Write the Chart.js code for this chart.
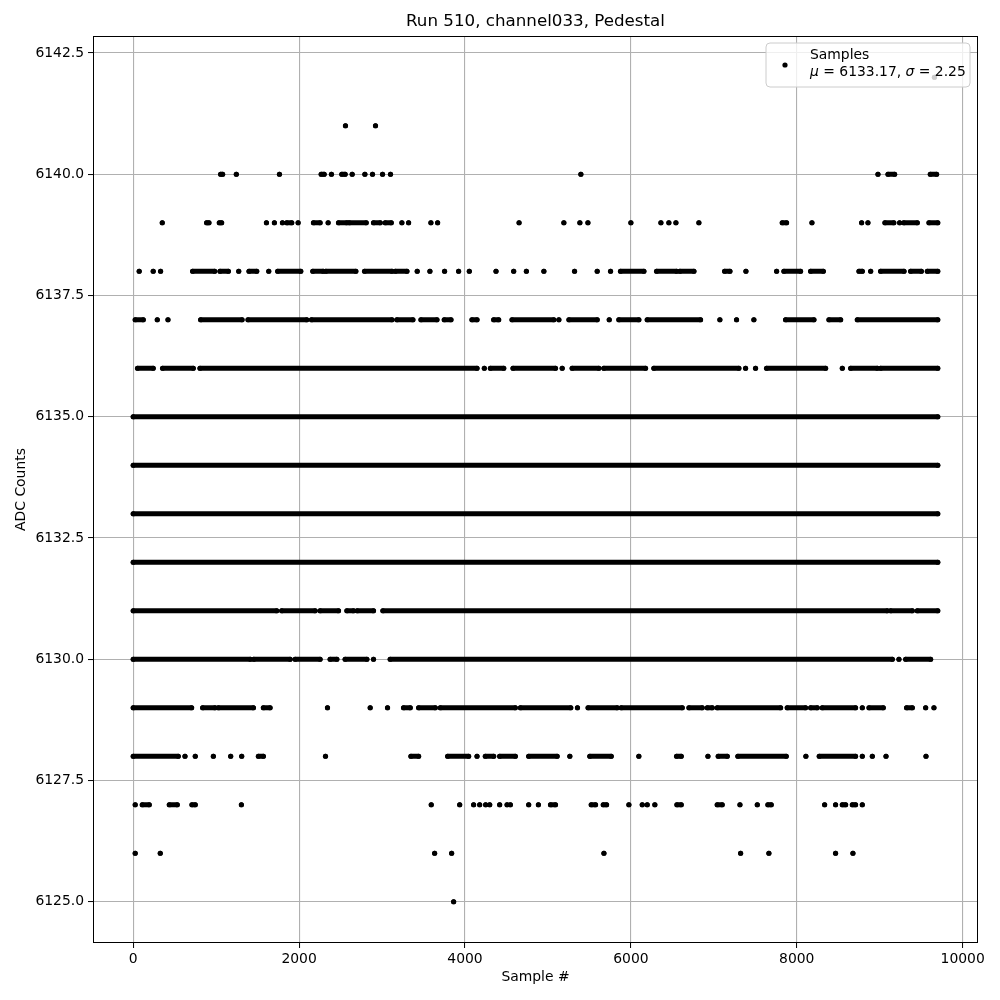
<!DOCTYPE html>
<html>
<head>
<meta charset="utf-8">
<script src="https://cdn.jsdelivr.net/npm/chart.js@4"></script>
<style>
  body { margin: 0; background: #fff; }
  #wrap { width: 1000px; height: 1000px; }
</style>
</head>
<body>
<div id="wrap"><canvas id="myChart" width="1000" height="1000"></canvas></div>
<script>
// Each level's runs of samples: [x] is a single dot, [x0, x1] a dense stretch of dots
const lvl6142 = [[9660]];
const lvl6141 = [[2559], [2921]];
const lvl6140 = [[1054, 1078], [1243], [1763], [2266, 2302], [2390], [2515, 2555], [2640], [2793], [2885], [3006], [3102], [5397], [8979], [9100, 9180], [9610, 9686]];
const lvl6139 = [[350], [885, 913], [1038, 1066], [1606], [1702], [1799], [1851, 1911], [1988], [2173, 2253], [2350], [2475, 2575], [2604, 2809], [2897, 2978], [3038, 3111], [3239], [3320], [3589], [3670], [4652], [5192], [5385], [5482], [6000], [6362], [6458], [6543], [6820], [7825, 7877], [8183], [8782], [8858], [9063, 9170], [9240], [9290, 9453], [9594, 9700]];
const lvl6138 = [[72], [241], [330], [716, 982], [1046, 1147], [1272], [1396, 1489], [1634], [1742, 2020], [2165, 2290], [2322, 2684], [2789, 3120], [3160, 3300], [3424], [3577], [3754], [3923], [4052], [4374], [4587], [4740], [4951], [5321], [5594], [5755], [5875, 6157], [6310, 6551], [6591, 6760], [7130, 7194], [7387], [7757], [7845, 8046], [8167, 8320], [8750, 8790], [8891], [9011, 9293], [9373, 9502], [9574, 9700]];
const lvl6137 = [[24, 121], [290], [419], [813, 1312], [1384, 2092], [2149, 3119], [3179, 3372], [3469, 3662], [3750, 3831], [4084, 4145], [4346, 4406], [4567, 5071], [5132], [5253, 5594], [5739], [5855, 6096], [6197, 6840], [7073], [7274], [7483], [7865, 8207], [8388, 8529], [8730, 9700]];
const lvl6136 = [[52, 241], [354, 724], [805, 4145], [4233], [4306, 4467], [4579, 5091], [5172], [5292, 5614], [5674, 6177], [6277, 7302], [7383], [7503], [7636, 8348], [8549], [8650, 8971], [9011, 9700]];
const lvl6135 = [[0, 9700]];
const lvl6134 = [[0, 9700]];
const lvl6133 = [[0, 9700]];
const lvl6132 = [[0, 9700]];
const lvl6131 = [[0, 1730], [1790, 2193], [2253, 2475], [2576, 2656], [2700, 2897], [3010, 9091], [9131, 9393], [9453, 9700]];
const lvl6130 = [[0, 1412], [1453, 1892], [1952, 2253], [2374, 2455], [2555, 2817], [2897], [3098, 9152], [9232], [9313, 9614]];
const lvl6129 = [[0, 704], [837, 986], [1026, 1449], [1569, 1650], [2342], [2857], [3066], [3259, 3340], [3441, 3642], [3702, 4607], [4668, 5275], [5356], [5484, 5835], [5883, 6619], [6700, 6860], [6921, 6981], [7041, 7805], [7885, 8106], [8167, 8247], [8307, 8709], [8790], [8871, 9043], [9324, 9393], [9554], [9654]];
const lvl6128 = [[0, 543], [624], [748], [966], [1175], [1308], [1509, 1569], [2318], [3348, 3441], [3791, 4044], [4145], [4245, 4346], [4418, 4607], [4768, 5111], [5264], [5505, 5763], [6096], [6551, 6607], [6929], [7053, 7162], [7290, 7873], [8110], [8271, 8709], [8790], [8911], [9076], [9558]];
const lvl6127 = [[24], [109, 193], [435, 531], [708, 748], [1304], [3593], [3936], [4104], [4177], [4249], [4298], [4418], [4507], [4547], [4768], [4885], [5031, 5091], [5522, 5574], [5667, 5707], [5976], [6137], [6197], [6289], [6555, 6607], [7041, 7101], [7315], [7524], [7652, 7692], [8336], [8468], [8549, 8589], [8670, 8709], [8790]];
const lvl6126 = [[24], [326], [3634], [3839], [5675], [7323], [7664], [8468], [8677]];
const lvl6125 = [[3863]];

const levels = [6125, 6126, 6127, 6128, 6129, 6130, 6131, 6132, 6133, 6134, 6135, 6136, 6137, 6138, 6139, 6140, 6141, 6142];
const levelRuns = [lvl6125, lvl6126, lvl6127, lvl6128, lvl6129, lvl6130, lvl6131, lvl6132, lvl6133, lvl6134, lvl6135, lvl6136, lvl6137, lvl6138, lvl6139, lvl6140, lvl6141, lvl6142];

const xTicks = [0, 2000, 4000, 6000, 8000, 10000];
const yTicks = [6125.0, 6127.5, 6130.0, 6132.5, 6135.0, 6137.5, 6140.0, 6142.5];

const titleText = 'Run 510, channel033, Pedestal';
const xLabel = 'Sample #';
const yLabel = 'ADC Counts';
const legendName = 'Samples';
const meanValue = '6133.17';
const sigmaValue = '2.25';

const FONT = '"DejaVu Sans", sans-serif';

// Turn runs into a point list, with null gaps between runs
function buildData(y, runs) {
  const pts = [];
  runs.forEach(r => {
    pts.push({ x: r[0], y: y });
    if (r.length > 1) pts.push({ x: r[1], y: y });
    pts.push({ x: r[0], y: null });
  });
  return pts;
}

const datasets = levels.map((y, i) => ({
  label: String(y),
  data: buildData(y, levelRuns[i]),
  showLine: true,
  spanGaps: false,
  borderColor: '#000',
  backgroundColor: '#000',
  borderWidth: 5,
  borderCapStyle: 'round',
  borderJoinStyle: 'round',
  pointRadius: 2.6,
  pointBorderWidth: 0,
  pointBackgroundColor: '#000',
  pointHoverRadius: 2.6,
}));

// Title, axis labels, frame and legend
const decorations = {
  id: 'decorations',
  afterDraw(c) {
    const ctx = c.ctx;
    const a = c.chartArea;
    ctx.save();
    ctx.strokeStyle = '#000';
    ctx.lineWidth = 1;
    ctx.strokeRect(Math.round(a.left) + 0.5, Math.round(a.top) + 0.5,
      Math.round(a.right - a.left) - 1, Math.round(a.bottom - a.top) - 1);

    ctx.fillStyle = '#000';
    ctx.textAlign = 'center';
    ctx.textBaseline = 'middle';
    ctx.font = '16.7px ' + FONT;
    ctx.fillText(titleText, (a.left + a.right) / 2, 22);

    ctx.font = '13.9px ' + FONT;
    ctx.fillText(xLabel, (a.left + a.right) / 2, 977);
    ctx.save();
    ctx.translate(21, (a.top + a.bottom) / 2);
    ctx.rotate(-Math.PI / 2);
    ctx.fillText(yLabel, 0, 0);
    ctx.restore();

    // legend box
    const bx = 766, by = 43, bw = 204, bh = 44, r = 4;
    ctx.beginPath();
    ctx.moveTo(bx + r, by);
    ctx.arcTo(bx + bw, by, bx + bw, by + bh, r);
    ctx.arcTo(bx + bw, by + bh, bx, by + bh, r);
    ctx.arcTo(bx, by + bh, bx, by, r);
    ctx.arcTo(bx, by, bx + bw, by, r);
    ctx.closePath();
    ctx.fillStyle = 'rgba(255,255,255,0.8)';
    ctx.fill();
    ctx.strokeStyle = '#cccccc';
    ctx.lineWidth = 1;
    ctx.stroke();

    ctx.fillStyle = '#000';
    ctx.beginPath();
    ctx.arc(785, 65, 2.6, 0, Math.PI * 2);
    ctx.fill();

    ctx.textAlign = 'left';
    ctx.font = '13.9px ' + FONT;
    ctx.fillText(legendName, 810, 55);
    let x = 810;
    const parts = [
      ['italic ', '\u03bc'], ['', ' = ' + meanValue + ', '],
      ['italic ', '\u03c3'], ['', ' = ' + sigmaValue],
    ];
    parts.forEach(p => {
      ctx.font = p[0] + '13.9px ' + FONT;
      ctx.fillText(p[1], x, 72);
      x += ctx.measureText(p[1]).width;
    });
    ctx.restore();
  }
};

const gridOpts = { color: '#b0b0b0', lineWidth: 1.1, tickLength: 5, tickColor: '#000', tickWidth: 1 };

const ctx = document.getElementById('myChart').getContext('2d');
const chart = new Chart(ctx, {
  type: 'scatter',
  data: { datasets: datasets },
  options: {
    responsive: false,
    animation: false,
    events: [],
    layout: { padding: { top: 36, right: 22, bottom: 0, left: 0 } },
    plugins: {
      legend: { display: false },
      title: { display: false },
      tooltip: { enabled: false },
    },
    scales: {
      x: {
        type: 'linear',
        min: -485,
        max: 10185,
        afterFit(s) { s.height = 57; },
        afterBuildTicks(s) { s.ticks = xTicks.map(v => ({ value: v })); },
        ticks: {
          color: '#000',
          font: { family: FONT, size: 13.9 },
          padding: 3,
          maxRotation: 0,
          callback: v => String(v),
        },
        grid: gridOpts,
        border: { display: false },
      },
      y: {
        type: 'linear',
        min: 6124.15,
        max: 6142.85,
        afterFit(s) { s.width = 93; },
        afterBuildTicks(s) { s.ticks = yTicks.map(v => ({ value: v })); },
        ticks: {
          color: '#000',
          font: { family: FONT, size: 13.9 },
          padding: 4,
          callback: v => Number(v).toFixed(1),
        },
        grid: gridOpts,
        border: { display: false },
      },
    },
  },
  plugins: [decorations],
});
</script>
</body>
</html>
